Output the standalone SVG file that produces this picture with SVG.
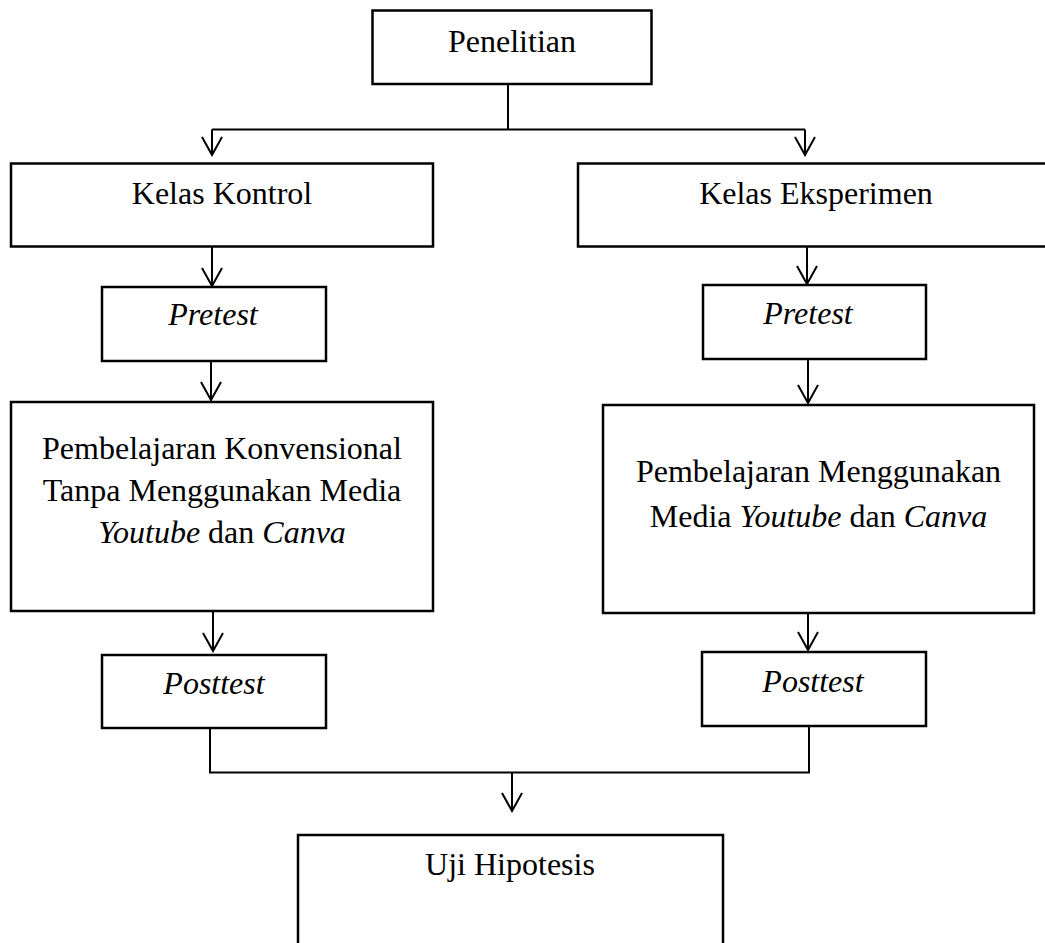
<svg xmlns="http://www.w3.org/2000/svg" width="1045" height="943" viewBox="0 0 1045 943">
<style>
.box{fill:#fff;stroke:#000;stroke-width:2.5}
.ln{fill:none;stroke:#000;stroke-width:2}
text{font-family:"Liberation Serif","Times New Roman",serif;font-size:32px;fill:#000;text-anchor:middle}
.it{font-style:italic}
</style>
<defs>
<marker id="arr" viewBox="0 0 22 24" refX="20" refY="12" markerWidth="22" markerHeight="24" markerUnits="userSpaceOnUse" orient="auto">
<path d="M2,2 L20,12 L2,22" fill="none" stroke="#000" stroke-width="2"/>
</marker>
</defs>
<rect width="1045" height="943" fill="#fff"/>
<g id="connectors">
<path class="ln" d="M508,84 V129.5"/>
<path class="ln" d="M212,129.5 H805"/>
<path class="ln" d="M212,129.5 V155" marker-end="url(#arr)"/>
<path class="ln" d="M805,129.5 V155" marker-end="url(#arr)"/>
<path class="ln" d="M212,247 V286" marker-end="url(#arr)"/>
<path class="ln" d="M807,247 V284" marker-end="url(#arr)"/>
<path class="ln" d="M211,361 V400" marker-end="url(#arr)"/>
<path class="ln" d="M808,359 V403" marker-end="url(#arr)"/>
<path class="ln" d="M213,611 V651" marker-end="url(#arr)"/>
<path class="ln" d="M808,613 V650" marker-end="url(#arr)"/>
<path class="ln" d="M210,728 V772.5 H809 V726"/>
<path class="ln" d="M512,772.5 V811" marker-end="url(#arr)"/>
</g>
<g id="penelitian">
<rect class="box" x="372.5" y="10.5" width="279" height="73.5"/>
<text x="512" y="51.5">Penelitian</text>
</g>
<g id="kelas-kontrol">
<rect class="box" x="11" y="163.5" width="422" height="83"/>
<text x="222" y="204">Kelas Kontrol</text>
</g>
<g id="kelas-eksperimen">
<rect class="box" x="578" y="163.5" width="480" height="83"/>
<text x="816" y="203.5">Kelas Eksperimen</text>
</g>
<g id="pretest-kontrol">
<rect class="box" x="102" y="287" width="224" height="74"/>
<text class="it" x="213" y="325">Pretest</text>
</g>
<g id="pretest-eksperimen">
<rect class="box" x="703" y="285" width="223" height="74"/>
<text class="it" x="808" y="324">Pretest</text>
</g>
<g id="pembelajaran-kontrol">
<rect class="box" x="11" y="402" width="422" height="209"/>
<text x="222" y="459">Pembelajaran Konvensional</text>
<text x="222" y="500.5">Tanpa Menggunakan Media</text>
<text x="222" y="542.5"><tspan class="it">Youtube</tspan> dan <tspan class="it">Canva</tspan></text>
</g>
<g id="pembelajaran-eksperimen">
<rect class="box" x="603" y="405" width="431" height="208"/>
<text x="818.5" y="482">Pembelajaran Menggunakan</text>
<text x="818.5" y="527">Media <tspan class="it">Youtube</tspan> dan <tspan class="it">Canva</tspan></text>
</g>
<g id="posttest-kontrol">
<rect class="box" x="102" y="655" width="224" height="73"/>
<text class="it" x="214" y="694">Posttest</text>
</g>
<g id="posttest-eksperimen">
<rect class="box" x="702" y="652" width="224" height="74"/>
<text class="it" x="813" y="691.5">Posttest</text>
</g>
<g id="uji-hipotesis">
<rect class="box" x="298" y="835" width="425" height="140"/>
<text x="510" y="875">Uji Hipotesis</text>
</g>
</svg>
